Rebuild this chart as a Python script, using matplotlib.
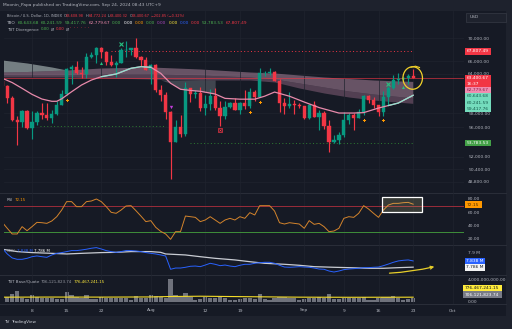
import numpy as np
import matplotlib
matplotlib.use("Agg")
import matplotlib.pyplot as plt
from matplotlib.patches import Rectangle, Ellipse, FancyArrowPatch
from matplotlib.ticker import NullLocator

plt.rcParams["font.family"] = "DejaVu Sans"

# ---- data (day 0 = 2024-07-02 ... day 83 = 2024-09-23)
opens = [62880, 62060, 60190, 57030, 56650, 58250, 55860, 56700, 58050, 57720, 57350, 57900, 59230, 60800,
         64780, 65080, 64100, 63980, 66700, 67150, 68190, 67580, 65930, 65370, 65800, 67900, 68000, 68250,
         66800, 66200, 64620, 65350, 61500, 60700, 58100, 53990, 56030, 55030, 61700, 60880, 60940, 58710,
         59350, 60600, 58740, 57560, 58880, 59500, 58430, 59480, 59030, 61170, 60380, 64090, 64180, 64260,
         62880, 59450, 59030, 59370, 59130, 58970, 57300, 59130, 57480, 57970, 56160, 53960, 54160, 54870,
         57040, 57650, 57340, 58130, 60570, 60000, 59180, 58210, 60310, 61760, 62950, 63200, 63350, 63609]
highs = [63300, 62270, 60500, 57500, 58470, 58400, 58250, 58300, 59450, 59450, 58500, 59850, 61400, 64900,
         65400, 66100, 65100, 67450, 67600, 68400, 68500, 67800, 67100, 66100, 68200, 69400, 68300, 70000,
         66900, 66800, 65600, 65600, 62200, 61100, 58300, 57000, 57700, 62700, 61750, 61450, 61850, 60700,
         61550, 61800, 59850, 59800, 59700, 60250, 59600, 61400, 61800, 61400, 64950, 64500, 65000, 64500,
         63200, 60200, 61200, 59900, 59450, 59050, 59400, 59800, 58500, 58300, 56950, 54850, 55300, 58100,
         58050, 57990, 58600, 60650, 60650, 60400, 59200, 61350, 62000, 63850, 64100, 63550, 64000, 64772]
lows = [61800, 59450, 56800, 53500, 56000, 55740, 54320, 56300, 57150, 57050, 56600, 57750, 59200, 60660,
        62400, 63950, 63250, 63300, 66500, 65800, 66600, 65500, 65200, 63450, 65750, 66800, 67100, 66500,
        65300, 64550, 62300, 61200, 59850, 57200, 49100, 53900, 54600, 54750, 59600, 60300, 58300, 57650,
        58500, 58450, 56150, 57100, 58800, 58400, 57800, 58600, 58800, 59800, 60350, 63600, 63800, 62800,
        58100, 57900, 58800, 57800, 58750, 57200, 57150, 57450, 55600, 55700, 52550, 53750, 53650, 54600,
        56400, 55550, 57300, 57650, 59450, 58700, 57500, 57600, 59200, 61600, 62400, 62800, 62400, 63400]
closes = [62060, 60190, 57030, 56650, 58250, 55860, 56700, 58050, 57720, 57350, 57900, 59230, 60800, 64780,
          65080, 64100, 63980, 66700, 67150, 68190, 67580, 65930, 65370, 65800, 67900, 68000, 68250, 66800,
          66200, 64620, 65350, 61500, 60700, 58100, 53990, 56030, 55030, 61700, 60880, 60940, 58710, 59350,
          60600, 58740, 57560, 58880, 59500, 58430, 59480, 59030, 61170, 60380, 64090, 64180, 64260, 62880,
          59450, 59030, 59370, 59130, 58970, 57300, 59130, 57480, 57970, 56160, 53960, 54160, 54870, 57040,
          57650, 57340, 58130, 60570, 60000, 59180, 58210, 60310, 61760, 62950, 63200, 63350, 63580, 63401]

# fast line of the TBO overlay (sampled days)
ema_days = [0, 2, 4, 6, 8, 10, 11, 12, 14, 16, 18, 20, 23, 26, 28, 30, 32, 34, 36, 38, 40, 43, 45, 48, 51,
            53, 55, 58, 61, 64, 68, 71, 73, 76, 78, 80, 83]
ema_vals = [63280, 62600, 61700, 60780, 60070, 59730, 59730, 60100, 61180, 62220, 63000, 63530, 63960, 64880,
            65140, 65050, 64070, 62490, 61560, 61380, 61250, 60830, 60170, 60050, 60050, 60500, 61130, 60500,
            59620, 58800, 58000, 58000, 58060, 58730, 59100, 59470, 60640]
teal_spans = [(19, 30), (77, 83)]

# cloud
cloud_days = [0, 5, 10, 13, 20, 30, 40, 50, 55, 60, 65, 70, 75, 83]
cloud_top = [64283, 64364, 64525, 64606, 64930, 65093, 64768, 64283, 64122, 63801, 63482, 63244, 63007, 62780]
cloud_mid = [63801, 63801, 63801, 63801, 63961, 63961, 63801, 63482, 63164, 62534, 61910, 61293, 60834, 60240]
cloud_bot = [63482, 63482, 63482, 63482, 63323, 63164, 63007, 63007, 62691, 61755, 60987, 60378, 59926, 59420]
wedge_days = [0, 5, 10, 13]
wedge_top = [66240, 65750, 65090, 64606]
wedge_bot = [64283, 64364, 64525, 64606]
shade_days = [32, 34, 36, 38, 40, 43]
shade_top = [63007, 63007, 63007, 63007, 63007, 63000]
shade_bot = [63007, 62500, 61560, 61380, 61250, 60830]

resistance = 67807.49
support = 53783.53
support_old = 56180
last_price = 63400.67

# signal markers: (day, price)
green_x = [(24, 68955), (78, 62380)]
green_up = [(20, 65800), (81, 61960)]
orange_pts = [(13, 59940), (50, 58150), (52, 59640), (73, 57010), (77, 57010)]
magenta_dn = [(34, 58840)]
red_box = [(44, 55520)]

rsi = [44.6, 35.6, 27.0, 27.0, 38.1, 32.0, 38.1, 44.6, 44.1, 43.1, 46.7, 53.2, 63.3, 76.0, 76.0, 68.4, 68.4,
       76.0, 77.0, 80.0, 76.0, 68.4, 59.8, 58.3, 63.3, 69.4, 69.9, 62.3, 54.2, 45.7, 47.2, 37.1, 31.0, 27.0,
       18.9, 30.5, 30.5, 54.2, 53.2, 52.2, 45.7, 48.2, 53.2, 48.2, 43.1, 48.2, 50.7, 48.2, 53.2, 50.7, 59.3,
       55.8, 69.9, 69.9, 69.9, 61.8, 44.1, 42.1, 44.1, 43.1, 42.1, 35.6, 47.2, 41.6, 43.1, 38.1, 30.5, 31.5,
       35.6, 50.7, 53.2, 52.2, 58.3, 69.9, 64.8, 58.3, 52.2, 63.3, 70.9, 73.4, 73.4, 74.4, 74.9, 72.15]

obv = [7.938, 7.892, 7.860, 7.849, 7.849, 7.857, 7.870, 7.876, 7.870, 7.865, 7.884, 7.897, 7.903, 7.911,
       7.919, 7.919, 7.924, 7.930, 7.938, 7.943, 7.932, 7.919, 7.911, 7.905, 7.911, 7.919, 7.919, 7.916,
       7.911, 7.903, 7.897, 7.892, 7.884, 7.876, 7.769, 7.779, 7.779, 7.785, 7.793, 7.795, 7.790, 7.803,
       7.817, 7.809, 7.798, 7.803, 7.795, 7.790, 7.801, 7.809, 7.809, 7.817, 7.822, 7.825, 7.825, 7.817,
       7.801, 7.787, 7.785, 7.787, 7.790, 7.787, 7.785, 7.779, 7.771, 7.769, 7.755, 7.747, 7.755, 7.766,
       7.771, 7.774, 7.777, 7.782, 7.782, 7.785, 7.787, 7.798, 7.811, 7.825, 7.836, 7.841, 7.844, 7.836]
obv_ma_days = [0, 3, 6, 10, 13, 16, 20, 23, 26, 30, 32, 33, 37, 40, 43, 47, 50, 53, 57, 60, 63, 67, 70, 74,
               77, 80, 83]
obv_ma = [7.930, 7.911, 7.903, 7.897, 7.892, 7.897, 7.903, 7.905, 7.911, 7.911, 7.905, 7.892, 7.884, 7.870,
          7.857, 7.844, 7.830, 7.817, 7.809, 7.801, 7.790, 7.785, 7.782, 7.777, 7.777, 7.782, 7.786]

# base volume, millions
volume = [630, 900, 1390, 1890, 590, 450, 1260, 810, 720, 720, 630, 450, 540, 1710, 1260, 810, 630, 1170,
          450, 540, 810, 720, 630, 720, 630, 630, 360, 1080, 720, 630, 1170, 1080, 810, 720, 4090, 1260,
          900, 1530, 900, 360, 540, 810, 720, 720, 810, 630, 360, 360, 540, 630, 630, 540, 1440, 540, 360,
          630, 900, 900, 720, 720, 360, 450, 720, 630, 810, 720, 1350, 450, 450, 720, 630, 720, 630, 810,
          360, 360, 720, 810, 900, 1080, 720, 360, 450, 706]
vol_ma_days = [0, 10, 20, 30, 34, 40, 50, 60, 70, 83]
vol_ma = [780, 800, 790, 820, 900, 950, 860, 780, 760, 776]

tick_days = [6, 13, 20, 30, 41, 48, 61, 69, 76, 83, 91]
tick_text = ["8", "15", "22", "Aug", "12", "19", "Sep", "9", "16", "23", "Oct"]
price_ticks = [70000, 66000, 64000, 58000, 56000, 52000, 50400, 48800]

# ---- layout (pixel grid of the screenshot)
W, H = 512, 329
BG, PANEL, GRID, TXT = "#1e222d", "#161a25", "#20242f", "#b2b5be"
UP, DN = "#089981", "#f23645"
FS = 3.2

fig = plt.figure(figsize=(W / 100, H / 100), dpi=100)
fig.patch.set_facecolor(BG)


def rect(x0, y0, x1, y1):
    return [x0 / W, 1 - y1 / H, (x1 - x0) / W, (y1 - y0) / H]


def px2price(y):
    return 70000 * np.exp(-(y - 38) / 399)


XL = (6 + (4 - 32) / 4.95, 6 + (464 - 32) / 4.95)

bg = fig.add_axes([0, 0, 1, 1])
bg.set_xlim(0, W); bg.set_ylim(H, 0); bg.axis("off")
bg.add_patch(Rectangle((0, 10.5), 506, 305, fc=PANEL, ec="none"))
for yy in (193, 245, 275, 303.5):
    bg.plot([0, 506], [yy, yy], color="#2a2e39", lw=0.7)


def pane(y0, y1, z=2):
    a = fig.add_axes(rect(4, y0, 464, y1))
    a.set_zorder(z); a.patch.set_alpha(0)
    for s in a.spines.values():
        s.set_visible(False)
    a.set_xlim(*XL)
    a.yaxis.tick_right()
    a.tick_params(axis="y", length=0, pad=3, labelsize=FS, labelcolor=TXT)
    a.tick_params(axis="x", length=0, labelbottom=False)
    a.set_xticks(tick_days)
    a.grid(axis="x", color=GRID, lw=0.5)
    return a


# ---- main price pane
ax = pane(10.5, 193, z=3)
ax.set_yscale("log")
ax.set_ylim(px2price(193), px2price(10.5))
ax.yaxis.set_minor_locator(NullLocator())
ax.set_yticks(price_ticks)
ax.set_yticklabels([f"{v:,.2f}" for v in price_ticks])
for v in price_ticks:
    ax.axhline(v, color=GRID, lw=0.5, zorder=0)

ax.fill_between(wedge_days, wedge_bot, wedge_top, color="#c3d2cf", alpha=0.55, lw=0)
ax.fill_between(cloud_days, cloud_mid, cloud_top, color="#d9a3c0", alpha=0.42, lw=0)
ax.fill_between(cloud_days, cloud_bot, cloud_mid, color="#b57d9c", alpha=0.38, lw=0)
ax.fill_between(shade_days, shade_bot, shade_top, color="#a3a9b3", alpha=0.3, lw=0)

ax.axhline(last_price, color=DN, lw=0.6, alpha=0.7)
ax.hlines(resistance, 22, 83, color=DN, lw=0.7, linestyles=(0, (1, 2.5)))
ax.hlines(support_old, 7.6, 33, color="#2e7d32", lw=0.7, linestyles=(0, (1, 2.5)))
ax.hlines(support, 38, 83, color="#2e7d32", lw=0.7, linestyles=(0, (1, 2.5)))

days = np.arange(len(closes))
o, h, l, c = (np.array(v, dtype=float) for v in (opens, highs, lows, closes))
cols = [UP if cc >= oo else DN for oo, cc in zip(o, c)]
for d, lo, hi, cc in zip(days, l, h, cols):
    ax.plot([d, d], [lo, hi], color=cc, lw=0.85, solid_capstyle="butt", zorder=3)
ax.bar(days, np.abs(c - o), bottom=np.minimum(o, c), width=0.66, color=cols, edgecolor=cols, lw=0.3, zorder=4)

ed, ev = np.array(ema_days), np.array(ema_vals)
ax.plot(ed, ev, color="#e88aab", lw=0.9, zorder=5)
for a0, a1 in teal_spans:
    m = (ed >= a0) & (ed <= a1)
    ax.plot(ed[m], ev[m], color="#8fe3cf", lw=0.9, zorder=5)

for d, p in green_x:
    ax.plot(d, p, marker="x", color="#26c281", ms=2.2, mew=0.8, zorder=6)
for d, p in green_up:
    ax.plot(d, p, marker="^", color="#26c281", ms=2.2, mew=0, zorder=6)
for d, p in orange_pts:
    ax.plot(d, p, marker="P", color="#ff9800", ms=2.2, mew=0, zorder=6)
for d, p in magenta_dn:
    ax.plot(d, p, marker="v", color="#c03cd8", ms=2.4, mew=0, zorder=6)
for d, p in red_box:
    ax.plot(d, p, marker="s", mfc="none", mec=DN, ms=2.4, mew=0.5, zorder=6)
    ax.plot(d, p, marker="x", color=DN, ms=1.6, mew=0.5, zorder=6)

# ---- RSI pane
rp = pane(193, 245)
rp.set_ylim(80 - 46 / 0.66, 80 + 6 / 0.66)
rp.set_yticks([80, 60, 40, 20])
rp.set_yticklabels(["80.00", "60.00", "40.00", "20.00"])
rp.axhline(70, color="#9b2c3a", lw=0.7)
rp.axhline(30, color="#3f8f3a", lw=0.7)
rp.plot(days, rsi, color="#d4842c", lw=0.7, zorder=4)

# ---- OBV pane
op = pane(245, 275)
op.set_ylim(7.723, 7.964)
op.set_yticks([7.9]); op.set_yticklabels(["7.9 M"])
op.plot(obv_ma_days, obv_ma, color="#c9ccd3", lw=0.9)
op.plot(days, obv, color="#2962ff", lw=0.7)

# ---- base/quote volume pane
vp = pane(275, 303.5)
vp.set_ylim(-360, 4770)
vp.set_yticks([0, 4000]); vp.set_yticklabels(["0.00", "4,000,000,000.00"])
vp.bar(days, volume, width=0.85, color="#6f727c", lw=0)
vp.plot(vol_ma_days, vol_ma, color="#f5dd29", lw=0.8)
vp.tick_params(axis="x", labelbottom=True, labelsize=FS, labelcolor=TXT, pad=3.6)
vp.set_xticklabels(tick_text)

# ---- overlay: labels, drawings, header
ov = fig.add_axes([0, 0, 1, 1])
ov.set_zorder(20); ov.patch.set_alpha(0)
ov.set_xlim(0, W); ov.set_ylim(H, 0); ov.axis("off")
rnd = fig.canvas.get_renderer()


def tag(yc, s, bgc, fgc, w=26, hh=6.4, x0=464.5):
    ov.add_patch(Rectangle((x0, yc - hh / 2), w, hh, fc=bgc, ec="none"))
    ov.text(x0 + 2, yc, s, color=fgc, fontsize=FS, ha="left", va="center")


tag(51.5, "67,807.49", DN, "white")
ov.add_patch(Rectangle((464.5, 74.5), 26, 12.5, fc=DN, ec="none"))
ov.text(466.5, 78, "63,400.67", color="white", fontsize=FS, va="center")
ov.text(466.5, 84, "16:37", color="white", fontsize=FS, va="center")
tag(90, "62,779.67", "#f08db0", "#8c1f4a")
tag(96.4, "60,643.68", "#74dcbd", "#13584a")
tag(102.7, "60,241.59", "#74dcbd", "#13584a")
tag(109, "59,417.76", "#74dcbd", "#13584a")
tag(143, "53,783.53", "#43a047", "white")
tag(204.5, "72.15", "#ff9800", "#4a2c00", w=17)
tag(260.7, "7.838 M", "#2962ff", "white", w=20)
tag(267.3, "7.786 M", "#f4f4f4", "#131722", w=20)
tag(288.3, "776,467,241.15", "#ffeb3b", "#131722", w=39, x0=463)
tag(294.6, "706,121,823.74", "#787b86", "white", w=39, x0=463)
ov.add_patch(Rectangle((466, 13), 39.5, 8.5, fc="#1e222d", ec="#363a45", lw=0.5))
ov.text(470, 17.2, "USD", color=TXT, fontsize=FS, va="center")

ov.add_patch(Ellipse((412.7, 78), 19.5, 22.5, fill=False, ec="#f2d22a", lw=0.9))
ov.plot([411, 415.5, 419.5], [67.2, 66.2, 67.5], color="#f2d22a", lw=0.8)
ov.add_patch(Rectangle((382.3, 197.3), 40, 14.4, fc="#d8d28a", alpha=0.18, ec="none", zorder=1))
ov.add_patch(Rectangle((382.3, 197.3), 40, 14.4, fill=False, ec="white", lw=0.9))
ov.add_patch(FancyArrowPatch((386.7, 273.3), (437, 266), arrowstyle="->", mutation_scale=5,
                             color="#e8cf2a", lw=0.9, connectionstyle="arc3,rad=0.05"))


def row(x, y, parts, size):
    for s, col, gap in parts:
        t = ov.text(x, y, s, color=col, fontsize=size, ha="left", va="center")
        x += t.get_window_extent(rnd).width + gap


row(3, 5, [("Moonin_Papa published on TradingView.com, Sep 24, 2024 08:43 UTC+9", TXT, 0)], 3.2)
row(7, 16, [("Bitcoin / U.S. Dollar, 1D, INDEX", TXT, 1.5), ("O", TXT, 0), ("63,608.98", DN, 1.5),
            ("H", TXT, 0), ("64,772.24", DN, 1.5), ("L", TXT, 0), ("63,400.32", DN, 1.5),
            ("C", TXT, 0), ("63,400.67", DN, 1.5), ("\u2212202.85 (\u22120.32%)", DN, 0)], 2.5)
row(7, 23.3, [("TBO", TXT, 2), ("60,643.68", "#4caf50", 2), ("60,241.59", "#4caf50", 2),
              ("59,417.76", "#4caf50", 2), ("62,779.67", "#f48fb1", 2), ("0.00", "#4caf50", 2),
              ("0.00", "white", 2), ("0.00", "#ff9800", 2), ("0.00", "#4caf50", 2), ("0.00", "#ab47bc", 2),
              ("0.00", "#ffeb3b", 2), ("0.00", "#2962ff", 2), ("0.00", DN, 2), ("53,783.53", "#4caf50", 2),
              ("67,807.49", DN, 0)], 3.1)
row(7, 29.5, [("TBT Divergence", TXT, 2), ("0.00", "#4caf50", 1.5), ("\u00d8", TXT, 1.5),
              ("0.00", DN, 1.5), ("\u00d8", TXT, 1.5), ("'  '  '  '  '  '", DN, 0)], 2.9)
row(7, 200, [("RSI", TXT, 1.5), ("72.15", "#ff9800", 0)], 2.9)
row(7, 250.5, [("OBV", TXT, 1.5), ("7.838 M", "#2962ff", 1.5), ("7.786 M", "white", 0)], 2.9)
row(7, 281.7, [("TBT Base/Quote", TXT, 1.5), ("706,121,823.74", "#9598a1", 1.5),
               ("776,467,241.15", "#ffeb3b", 0)], 2.9)
row(4, 322.3, [("\u03a4V", "#d1d4dc", 1.2), ("TradingView", "#d1d4dc", 0)], 3.0)

fig.savefig("out.png", dpi=100, facecolor=fig.get_facecolor())
